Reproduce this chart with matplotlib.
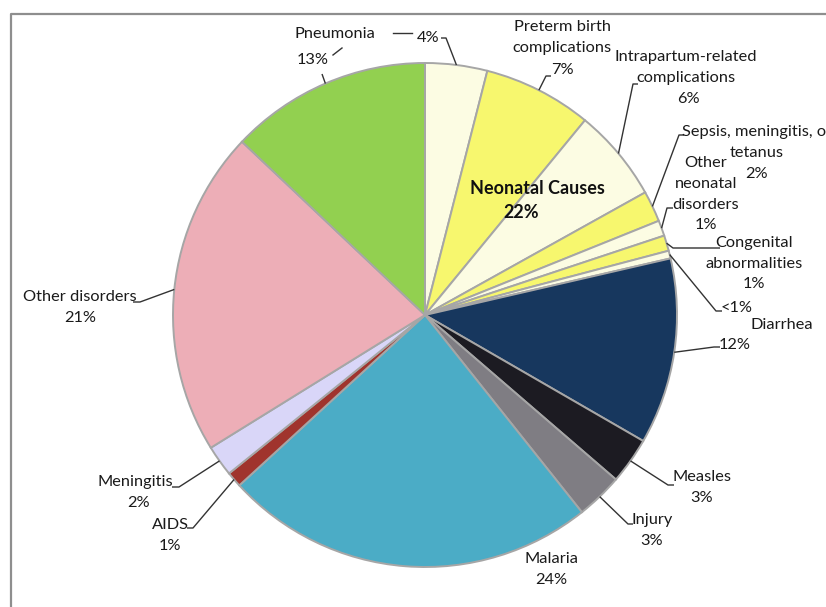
import numpy as np
import matplotlib.pyplot as plt

# slices, clockwise from 12 o'clock
causes = ['Other neonatal', 'Preterm birth complications', 'Intrapartum-related complications',
          'Sepsis, meningitis, or tetanus', 'Other neonatal disorders', 'Congenital abnormalities',
          'Other neonatal (small)', 'Diarrhea', 'Measles', 'Injury', 'Malaria', 'AIDS',
          'Meningitis', 'Other disorders', 'Pneumonia']
shares = [4, 7, 6, 2, 1, 1, 0.5, 12, 3, 3, 24, 1, 2, 21, 13]
share_text = ['4%', '7%', '6%', '2%', '1%', '1%', '<1%', '12%', '3%', '3%', '24%', '1%', '2%', '21%', '13%']
name_text = ['', 'Preterm birth\ncomplications', 'Intrapartum-related\ncomplications',
             'Sepsis, meningitis, or\ntetanus', 'Other\nneonatal\ndisorders',
             'Congenital\nabnormalities', '', 'Diarrhea', 'Measles', 'Injury', 'Malaria',
             'AIDS', 'Meningitis', 'Other disorders', 'Pneumonia']
group_name = 'Neonatal Causes'
group_share = '22%'

colors = ['#FCFCE3', '#F7F76E', '#FCFCE3', '#F7F76E', '#FCFCE3', '#F7F76E', '#FCFCE3',
          '#17375E', '#1C1B22', '#7F7D83', '#4BACC6', '#A0342D', '#D9D6F8', '#EDAEB7', '#92D050']

# layout in pixel coordinates (origin top-left)
cx, cy, R = 425, 315, 252
LS = 20.8
name_pos = [None, (562, 27), (686, 57), (757, 132), (706, 163), (754, 243), None,
            (782, 325), (702, 477), (652, 520), (551, 559), (170, 525), (135, 482),
            (80, 297), (335, 34)]
share_pos = [(428, 38), (562, 70), (688, 99), (757, 174), (706, 225), (754, 284), (737, 308),
             (735, 345), (702, 498), (652, 541), (551, 580), (170, 546), (139, 503),
             (80, 318), (313, 60)]
leader = [[(441, 38), (446, 38)], [(551, 76), (546, 76)], [(638, 84), (633, 84)],
          [(684, 135), (679, 135)], [(673, 208), (667, 208)], [(720, 248), (673, 248)],
          [(722, 311), (716, 311)], [(720, 347), (714, 347)], [(674, 485), (668, 485)],
          [(633, 524), (628, 524)], None, [(187, 528), (193, 528)], [(172, 487), (179, 487)],
          [(133, 302), (140, 302)], [(322, 74)]]

plt.rcParams['font.family'] = ['Lato', 'DejaVu Sans']
fig = plt.figure(figsize=(8.26, 6.07), dpi=100)
ax = fig.add_axes([0, 0, 1, 1])

wedges, _ = ax.pie(shares, colors=colors, startangle=-90, counterclock=True,
                   center=(cx, cy), radius=R,
                   wedgeprops=dict(edgecolor='#A6A6A6', linewidth=1.4))
ax.set_xlim(0, 826)
ax.set_ylim(607, 0)
ax.set_aspect('equal')
ax.axis('off')

txt = dict(fontsize=11.8, color='#1a1a1a', ha='center', va='center')
for i in range(len(shares)):
    if name_pos[i] is not None:
        x, y = name_pos[i]
        for k, line in enumerate(name_text[i].split('\n')):
            ax.text(x, y + k * LS, line, **txt)
    ax.text(share_pos[i][0], share_pos[i][1], share_text[i], **txt)
    if leader[i] is not None:
        w = wedges[i]
        th = np.deg2rad((w.theta1 + w.theta2) / 2)
        ex, ey = cx + R * np.cos(th), cy + R * np.sin(th)
        pts = leader[i] + [(ex, ey)]
        ax.plot([p[0] for p in pts], [p[1] for p in pts], color='#333333', lw=1.0,
                solid_capstyle='butt')

# broken pieces of the pneumonia leader
ax.plot([333, 342], [55, 48], color='#333333', lw=1.0)
ax.plot([393, 412], [33, 33], color='#333333', lw=1.0)

ax.text(537, 188, group_name, fontsize=13, fontweight='bold', color='#111111',
        ha='center', va='center')
ax.text(521, 212, group_share, fontsize=13, fontweight='bold', color='#111111',
        ha='center', va='center')

# chart frame
ax.plot([11, 11, 900], [700, 14, 14], color='#8E8E8E', lw=1.6, clip_on=False)

fig.savefig('out.png', dpi=100)
